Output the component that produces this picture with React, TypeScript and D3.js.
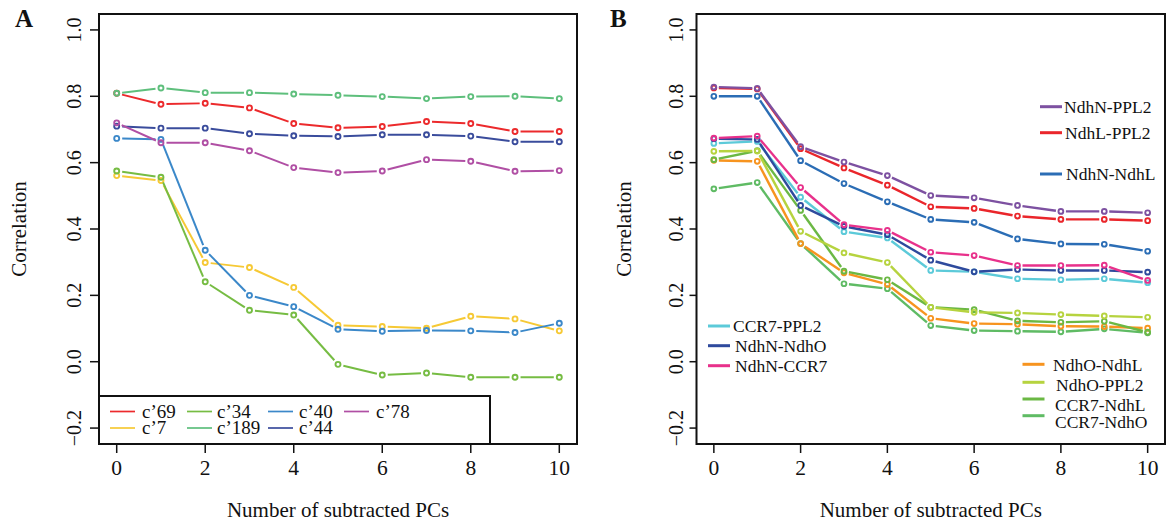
import React from "react";
import * as d3 from "d3";

// x categories: number of subtracted PCs
const pcs = [0, 1, 2, 3, 4, 5, 6, 7, 8, 9, 10];
const xTicks = [0, 2, 4, 6, 8, 10];
const yTicks = [-0.2, 0.0, 0.2, 0.4, 0.6, 0.8, 1.0];

// Panel A
const c69 = [0.809, 0.776, 0.779, 0.765, 0.718, 0.705, 0.709, 0.724, 0.718, 0.694, 0.694];
const c7 = [0.561, 0.546, 0.299, 0.284, 0.224, 0.110, 0.106, 0.101, 0.137, 0.129, 0.093];
const c34 = [0.575, 0.556, 0.241, 0.155, 0.141, -0.008, -0.040, -0.034, -0.047, -0.047, -0.047];
const c189 = [0.809, 0.825, 0.811, 0.811, 0.807, 0.803, 0.799, 0.793, 0.799, 0.800, 0.793];
const c40 = [0.673, 0.670, 0.336, 0.200, 0.166, 0.098, 0.092, 0.094, 0.093, 0.088, 0.116];
const c44 = [0.710, 0.704, 0.704, 0.687, 0.681, 0.679, 0.684, 0.684, 0.680, 0.663, 0.663];
const c78 = [0.720, 0.660, 0.660, 0.636, 0.585, 0.570, 0.575, 0.609, 0.604, 0.574, 0.576];

const seriesA = [
  { name: "c\u201969", values: c69, color: "#ec2a2c" },
  { name: "c\u20197", values: c7, color: "#f6c935" },
  { name: "c\u201934", values: c34, color: "#76bc43" },
  { name: "c\u2019189", values: c189, color: "#5ebf7c" },
  { name: "c\u201940", values: c40, color: "#3b88c9" },
  { name: "c\u201944", values: c44, color: "#3a4c9c" },
  { name: "c\u201978", values: c78, color: "#b04fa4" },
];

// Panel B
const ndhNPPL2 = [0.828, 0.824, 0.648, 0.602, 0.561, 0.501, 0.494, 0.471, 0.453, 0.453, 0.449];
const ndhLPPL2 = [0.825, 0.822, 0.642, 0.584, 0.532, 0.467, 0.462, 0.439, 0.429, 0.429, 0.425];
const ndhNNdhL = [0.800, 0.800, 0.606, 0.537, 0.482, 0.429, 0.420, 0.370, 0.355, 0.354, 0.333];
const ccr7PPL2 = [0.658, 0.664, 0.496, 0.392, 0.373, 0.275, 0.271, 0.250, 0.247, 0.250, 0.238];
const ndhNNdhO = [0.672, 0.670, 0.471, 0.408, 0.383, 0.306, 0.271, 0.278, 0.275, 0.275, 0.270];
const ndhNCCR7 = [0.674, 0.680, 0.525, 0.413, 0.396, 0.330, 0.320, 0.290, 0.290, 0.291, 0.245];
const ndhONdhL = [0.607, 0.604, 0.356, 0.268, 0.233, 0.131, 0.115, 0.113, 0.107, 0.106, 0.101];
const ndhOPPL2 = [0.634, 0.635, 0.393, 0.328, 0.299, 0.164, 0.149, 0.147, 0.142, 0.138, 0.134];
const ccr7NdhL = [0.609, 0.636, 0.456, 0.273, 0.247, 0.164, 0.157, 0.123, 0.119, 0.122, 0.089];
const ccr7NdhO = [0.521, 0.540, 0.356, 0.235, 0.220, 0.109, 0.094, 0.092, 0.090, 0.099, 0.087];

const seriesB = [
  { name: "CCR7-NdhO", values: ccr7NdhO, color: "#5fbb64" },
  { name: "NdhO-NdhL", values: ndhONdhL, color: "#f7941f" },
  { name: "CCR7-NdhL", values: ccr7NdhL, color: "#6bb844" },
  { name: "NdhO-PPL2", values: ndhOPPL2, color: "#b6d33f" },
  { name: "CCR7-PPL2", values: ccr7PPL2, color: "#5ccad9" },
  { name: "NdhN-NdhO", values: ndhNNdhO, color: "#2e4a9d" },
  { name: "NdhN-CCR7", values: ndhNCCR7, color: "#e8318b" },
  { name: "NdhN-NdhL", values: ndhNNdhL, color: "#2b6db5" },
  { name: "NdhL-PPL2", values: ndhLPPL2, color: "#ea262b" },
  { name: "NdhN-PPL2", values: ndhNPPL2, color: "#7d51a1" },
];

const font = "'Liberation Serif', 'Times New Roman', serif";
const TOP = 14;
const BOTTOM = 444;

type Series = { name: string; values: number[]; color: string };

// R style type="b": segments stop short of each point
const Lines = ({ series, x, y, lw, r, sw, gap }) => (
  <g>
    {series.map((s: Series) => {
      const pts = s.values.map((v, i) => [x(pcs[i]), y(v)]);
      return (
        <g key={s.name}>
          {pts.slice(1).map((p, i) => {
            const q = pts[i];
            const dx = p[0] - q[0];
            const dy = p[1] - q[1];
            const len = Math.hypot(dx, dy);
            if (len < gap * 2) return null;
            const ux = dx / len;
            const uy = dy / len;
            return (
              <line
                key={i}
                x1={q[0] + ux * gap}
                y1={q[1] + uy * gap}
                x2={p[0] - ux * gap}
                y2={p[1] - uy * gap}
                stroke={s.color}
                strokeWidth={lw}
              />
            );
          })}
          {pts.map((p, i) => (
            <circle key={i} cx={p[0]} cy={p[1]} r={r} fill="none" stroke={s.color} strokeWidth={sw} />
          ))}
        </g>
      );
    })}
  </g>
);

const Frame = ({ left, right, x, y, label, labelX, yLabelX, yTitleX, tickLeft }) => (
  <g fontFamily={font} fill="#111">
    <rect x={left} y={TOP} width={right - left} height={BOTTOM - TOP} fill="none" stroke="#111" strokeWidth={2} />
    {yTicks.map((t) => (
      <g key={t}>
        <line x1={tickLeft} x2={left} y1={y(t)} y2={y(t)} stroke="#111" strokeWidth={1.5} />
        <text
          transform={`translate(${yLabelX},${y(t)}) rotate(-90)`}
          textAnchor="middle"
          fontSize={20}
        >
          {t < 0 ? "\u2212" + Math.abs(t).toFixed(1) : t.toFixed(1)}
        </text>
      </g>
    ))}
    {xTicks.map((t) => (
      <g key={t}>
        <line x1={x(t)} x2={x(t)} y1={BOTTOM} y2={BOTTOM + 9} stroke="#111" strokeWidth={1.5} />
        <text x={x(t)} y={475} textAnchor="middle" fontSize={21.5}>
          {t}
        </text>
      </g>
    ))}
    <text x={(left + right) / 2} y={517} textAnchor="middle" fontSize={21}>
      Number of subtracted PCs
    </text>
    <text
      transform={`translate(${yTitleX},${(TOP + BOTTOM) / 2}) rotate(-90)`}
      textAnchor="middle"
      fontSize={21}
    >
      Correlation
    </text>
    <text x={labelX} y={27} fontSize={25} fontWeight="bold">
      {label}
    </text>
  </g>
);

const yScale = d3.scaleLinear().domain([-0.248, 1.048]).range([BOTTOM, TOP]);

const PanelA = () => {
  const left = 99;
  const right = 577;
  const x = d3.scaleLinear().domain([-0.4, 10.4]).range([left, right]);
  // legend laid out by column, 2 rows
  const colLine = [110, 187, 268, 344];
  const colText = [142, 217, 299, 376];
  const rowY = [411.5, 428];
  return (
    <g>
      <Frame left={left} right={right} x={x} y={yScale} label="A" labelX={15} yLabelX={81} yTitleX={26} tickLeft={90} />
      <Lines series={seriesA} x={x} y={yScale} lw={2} r={2.5} sw={1.9} gap={5.5} />
      <rect x={left} y={396} width={490 - left} height={BOTTOM - 396} fill="white" stroke="#111" strokeWidth={2} />
      {seriesA.map((s, i) => {
        const c = Math.floor(i / 2);
        const rr = i % 2;
        return (
          <g key={s.name}>
            <line x1={colLine[c]} x2={colLine[c] + 25} y1={rowY[rr]} y2={rowY[rr]} stroke={s.color} strokeWidth={1.7} />
            <text x={colText[c]} y={rowY[rr] + 6} fontFamily={font} fontSize={19} fill="#111">
              {s.name}
            </text>
          </g>
        );
      })}
    </g>
  );
};

// legend placement for panel B (hand positioned as in the figure)
const legendB = [
  { name: "NdhN-PPL2", lx: 1040, ly: 106.7, tx: 1064, ty: 106.7 },
  { name: "NdhL-PPL2", lx: 1040, ly: 132.7, tx: 1065, ty: 132.7 },
  { name: "NdhN-NdhL", lx: 1040, ly: 174, tx: 1066, ty: 174 },
  { name: "CCR7-PPL2", lx: 708, ly: 326, tx: 733, ty: 326 },
  { name: "NdhN-NdhO", lx: 708, ly: 345.7, tx: 735, ty: 345.7 },
  { name: "NdhN-CCR7", lx: 708, ly: 365.7, tx: 735, ty: 365.7 },
  { name: "NdhO-NdhL", lx: 1022.5, ly: 364.3, tx: 1053, ty: 365 },
  { name: "NdhO-PPL2", lx: 1022.5, ly: 382.3, tx: 1056, ty: 385 },
  { name: "CCR7-NdhL", lx: 1022.5, ly: 399, tx: 1055, ty: 405 },
  { name: "CCR7-NdhO", lx: 1022.5, ly: 415.7, tx: 1055, ty: 421.7 },
];

const PanelB = () => {
  const left = 696.5;
  const right = 1165;
  const x = d3.scaleLinear().domain([-0.4, 10.4]).range([left, right]);
  const colorOf = (n: string) => seriesB.find((s) => s.name === n)!.color;
  return (
    <g>
      <Frame left={left} right={right} x={x} y={yScale} label="B" labelX={610} yLabelX={683} yTitleX={631} tickLeft={689.5} />
      <Lines series={seriesB} x={x} y={yScale} lw={2.4} r={2.4} sw={1.9} gap={5} />
      {legendB.map((l) => (
        <g key={l.name}>
          <line x1={l.lx} x2={l.lx + 22} y1={l.ly} y2={l.ly} stroke={colorOf(l.name)} strokeWidth={3} />
          <text x={l.tx} y={l.ty + 6} fontFamily={font} fontSize={17.5} fill="#111">
            {l.name}
          </text>
        </g>
      ))}
    </g>
  );
};

export default function App() {
  return (
    <svg
      width={1173}
      height={523}
      style={{ position: "absolute", left: 0, top: 0, background: "white" }}
    >
      <rect width={1173} height={523} fill="white" />
      <PanelA />
      <PanelB />
    </svg>
  );
}
